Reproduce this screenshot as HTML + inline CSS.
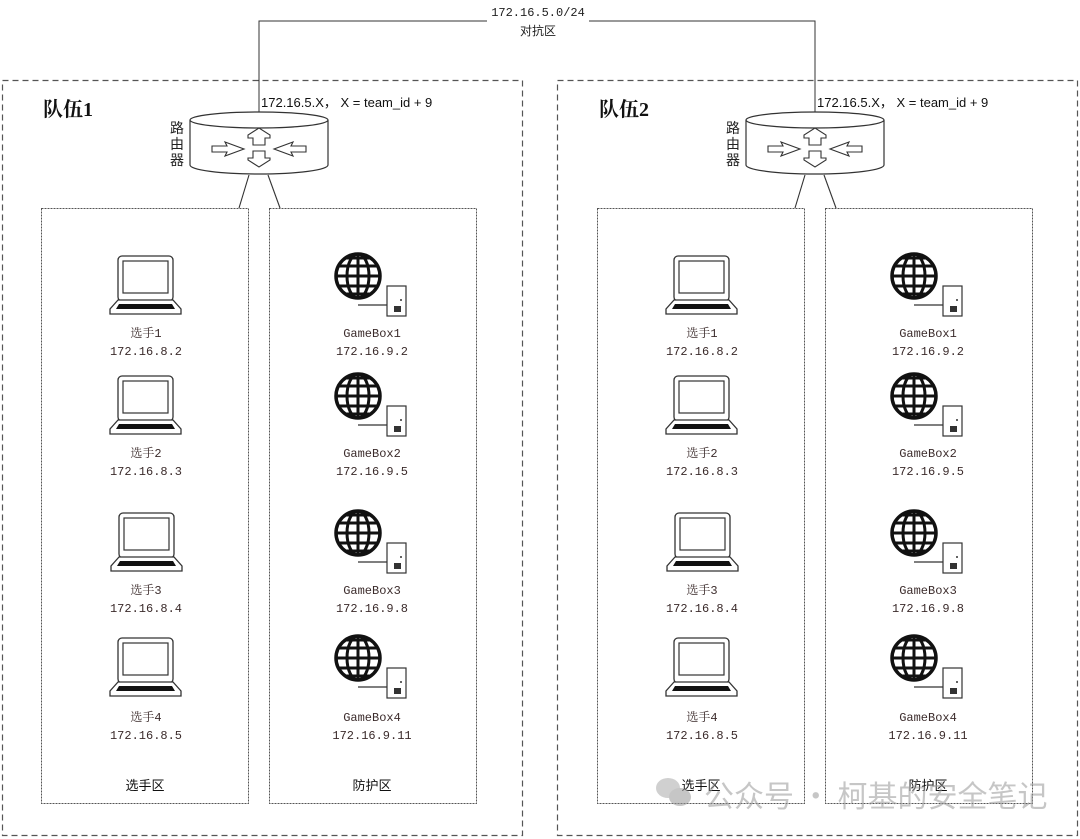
<!DOCTYPE html>
<html><head><meta charset="utf-8"><style>
html,body{margin:0;padding:0;background:#fff}
svg{display:block}
.l{font-family:"Liberation Mono","Noto Serif CJK SC",monospace;font-size:12px;fill:#3b2b2b;text-anchor:middle}
.s{font-family:"Liberation Sans","Noto Sans CJK SC",sans-serif;font-size:13px;fill:#111}
</style></head><body>
<svg width="1080" height="839" viewBox="0 0 1080 839" xmlns="http://www.w3.org/2000/svg">
<defs>
<g id="lap">
<rect x="8" y="0" width="55" height="45" rx="4" fill="#fff" stroke="#333" stroke-width="1.3"/>
<rect x="13" y="5" width="45" height="32" fill="#fff" stroke="#333" stroke-width="1.2"/>
<path d="M8 44 L0 53 L0 58 L71 58 L71 53 L63 44 Z" fill="#fff" stroke="#333" stroke-width="1.3"/>
<path d="M9 48 L62 48 L65 53 L6 53 Z" fill="#111"/>
</g>
<g id="glb">
<circle cx="0" cy="0" r="22" fill="#fff" stroke="#111" stroke-width="3.5"/>
<g fill="none" stroke="#111" stroke-width="3">
<ellipse cx="0" cy="0" rx="11" ry="22"/>
<line x1="0" y1="-22" x2="0" y2="22"/>
<line x1="-22" y1="0" x2="22" y2="0"/>
<line x1="-20" y1="-10" x2="20" y2="-10"/><line x1="-20" y1="10" x2="20" y2="10"/>
<line x1="-12" y1="-18" x2="12" y2="-18"/><line x1="-12" y1="18" x2="12" y2="18"/>
</g>
<line x1="0" y1="29" x2="29" y2="29" stroke="#333" stroke-width="1.2"/>
<rect x="29" y="10" width="19" height="30" fill="#fff" stroke="#333" stroke-width="1.2"/>
<rect x="36" y="30" width="7" height="6" fill="#333"/>
<circle cx="43" cy="24" r="1" fill="#333"/>
</g>
<g id="rt">
<path d="M190 120 L190 165 A69 9 0 0 0 328 165 L328 120" fill="#fff" stroke="#333" stroke-width="1.2"/>
<ellipse cx="259" cy="120" rx="69" ry="8" fill="#fff" stroke="#333" stroke-width="1.2"/>
<g fill="#fff" stroke="#333" stroke-width="1.1">
<path d="M253 145 L253 138 L248 138 L248 135 L259 128 L270 135 L270 138 L265 138 L265 145 Z"/>
<path d="M253 151 L253 158 L248 158 L248 160 L259 167 L270 160 L270 158 L265 158 L265 151 Z"/>
<path d="M212 146 L212 152 L227 152 L225 156 L244 149 L225 142 L227 146 Z"/>
<path d="M306 146 L306 152 L291 152 L293 156 L274 149 L293 142 L291 146 Z"/>
</g>
<line x1="249" y1="175" x2="239" y2="208" stroke="#333" stroke-width="1.1"/>
<line x1="268" y1="175" x2="280" y2="208" stroke="#333" stroke-width="1.1"/>
</g>
</defs>

<polyline points="259,142 259,21 487,21" fill="none" stroke="#333" stroke-width="1"/>
<polyline points="589,21 815,21 815,142" fill="none" stroke="#333" stroke-width="1"/>
<text x="538" y="16" class="l" style="fill:#222">172.16.5.0/24</text>
<text x="538" y="35" class="l" style="fill:#222;font-family:'Noto Sans CJK SC',sans-serif">对抗区</text>

<rect x="2.5" y="80.5" width="520" height="755" fill="none" stroke="#555" stroke-width="1.2" stroke-dasharray="6,4"/>
<rect x="557.5" y="80.5" width="520" height="755" fill="none" stroke="#555" stroke-width="1.2" stroke-dasharray="6,4"/>
<g fill="none" stroke="#555" stroke-width="1" stroke-dasharray="2,1">
<rect x="41.5" y="208.5" width="207" height="595"/>
<rect x="269.5" y="208.5" width="207" height="595"/>
<rect x="597.5" y="208.5" width="207" height="595"/>
<rect x="825.5" y="208.5" width="207" height="595"/>
</g>

<g id="team1">
<use href="#rt"/>
<text x="43" y="116" style="font-family:'Liberation Serif','Noto Serif CJK SC',serif;font-size:20px;font-weight:bold;fill:#111">队伍1</text>
<text x="261" y="107" class="s">172.16.5.X， X = team_id + 9</text>
<g style="font-family:'Noto Sans CJK SC',sans-serif;font-size:14px;fill:#222">
<text x="170" y="133">路</text><text x="170" y="149">由</text><text x="170" y="165">器</text></g>
<use href="#lap" x="110" y="256"/><use href="#lap" x="110" y="376"/><use href="#lap" x="111" y="513"/><use href="#lap" x="110" y="638"/>
<use href="#glb" x="358" y="276"/><use href="#glb" x="358" y="396"/><use href="#glb" x="358" y="533"/><use href="#glb" x="358" y="658"/>
<text class="l" x="146" y="337">选手1</text><text class="l" x="146" y="355">172.16.8.2</text>
<text class="l" x="146" y="457">选手2</text><text class="l" x="146" y="475">172.16.8.3</text>
<text class="l" x="146" y="594">选手3</text><text class="l" x="146" y="612">172.16.8.4</text>
<text class="l" x="146" y="721">选手4</text><text class="l" x="146" y="739">172.16.8.5</text>
<text class="l" x="372" y="337">GameBox1</text><text class="l" x="372" y="355">172.16.9.2</text>
<text class="l" x="372" y="457">GameBox2</text><text class="l" x="372" y="475">172.16.9.5</text>
<text class="l" x="372" y="594">GameBox3</text><text class="l" x="372" y="612">172.16.9.8</text>
<text class="l" x="372" y="721">GameBox4</text><text class="l" x="372" y="739">172.16.9.11</text>
<text class="s" x="145" y="790" text-anchor="middle">选手区</text>
<text class="s" x="372" y="790" text-anchor="middle">防护区</text>
</g>

<g transform="translate(556,0)">
<use href="#rt"/>
<text x="43" y="116" style="font-family:'Liberation Serif','Noto Serif CJK SC',serif;font-size:20px;font-weight:bold;fill:#111">队伍2</text>
<text x="261" y="107" class="s">172.16.5.X， X = team_id + 9</text>
<g style="font-family:'Noto Sans CJK SC',sans-serif;font-size:14px;fill:#222">
<text x="170" y="133">路</text><text x="170" y="149">由</text><text x="170" y="165">器</text></g>
<use href="#lap" x="110" y="256"/><use href="#lap" x="110" y="376"/><use href="#lap" x="111" y="513"/><use href="#lap" x="110" y="638"/>
<use href="#glb" x="358" y="276"/><use href="#glb" x="358" y="396"/><use href="#glb" x="358" y="533"/><use href="#glb" x="358" y="658"/>
<text class="l" x="146" y="337">选手1</text><text class="l" x="146" y="355">172.16.8.2</text>
<text class="l" x="146" y="457">选手2</text><text class="l" x="146" y="475">172.16.8.3</text>
<text class="l" x="146" y="594">选手3</text><text class="l" x="146" y="612">172.16.8.4</text>
<text class="l" x="146" y="721">选手4</text><text class="l" x="146" y="739">172.16.8.5</text>
<text class="l" x="372" y="337">GameBox1</text><text class="l" x="372" y="355">172.16.9.2</text>
<text class="l" x="372" y="457">GameBox2</text><text class="l" x="372" y="475">172.16.9.5</text>
<text class="l" x="372" y="594">GameBox3</text><text class="l" x="372" y="612">172.16.9.8</text>
<text class="l" x="372" y="721">GameBox4</text><text class="l" x="372" y="739">172.16.9.11</text>
<text class="s" x="145" y="790" text-anchor="middle">选手区</text>
<text class="s" x="372" y="790" text-anchor="middle">防护区</text>
</g>

<g opacity="0.55">
<ellipse cx="668" cy="788" rx="12" ry="10" fill="#aaa"/>
<ellipse cx="680" cy="797" rx="11" ry="9" fill="#999"/>
<text x="704" y="807" style="font-family:'Noto Sans CJK SC',sans-serif;font-size:30px;fill:#999">公众号 · 柯基的安全笔记</text>
</g>
</svg>
</body></html>
